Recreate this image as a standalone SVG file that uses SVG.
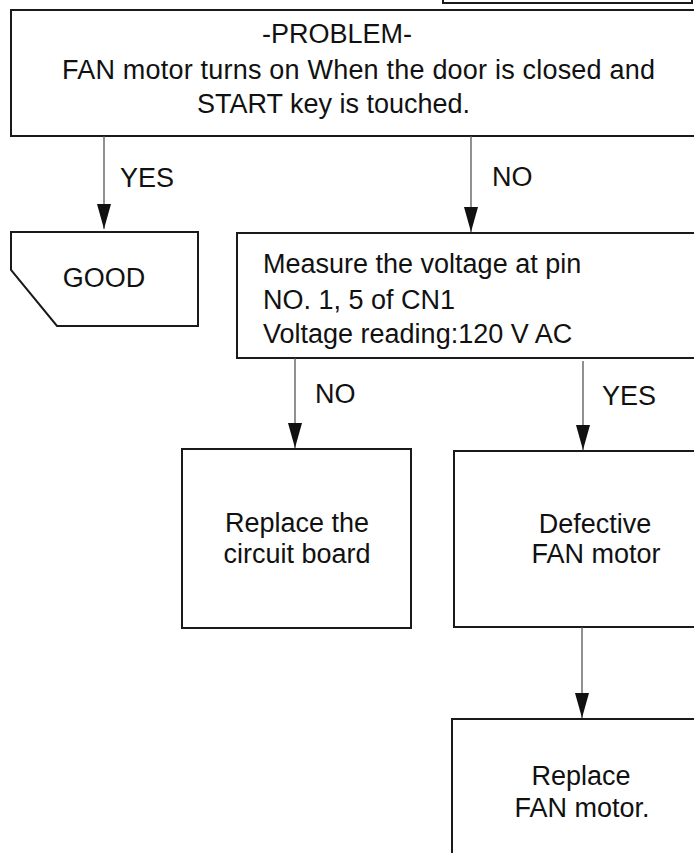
<svg xmlns="http://www.w3.org/2000/svg" width="694" height="863" viewBox="0 0 694 863">
<style>
.box{fill:#fff;stroke:#1a1a1a;stroke-width:2}
.t{font-family:"Liberation Sans",Arial,Helvetica,sans-serif;font-size:27px;fill:#111}
.c{text-anchor:middle}
.conn{stroke:#555;stroke-width:1.3;fill:none;marker-end:url(#ah)}
</style>
<defs>
<marker id="ah" markerUnits="userSpaceOnUse" markerWidth="26" markerHeight="16" viewBox="0 0 26 16" refX="25" refY="8" orient="auto">
<path d="M0,1 L25,8 L0,15 Z" fill="#111"/>
</marker>
</defs>
<rect width="694" height="863" fill="#fff"/>
<g id="top-partial"><rect class="box" x="443" y="-10" width="249" height="13"/></g>
<g id="problem">
<rect class="box" x="11" y="10" width="700" height="126"/>
<text class="t" x="262" y="43">-PROBLEM-</text>
<text class="t" x="62" y="79" textLength="593">FAN motor turns on When the door is closed and</text>
<text class="t" x="197" y="113">START key is touched.</text>
</g>
<g id="good">
<path class="box" d="M11,232 H198 V326 H57 L11,270 Z"/>
<text class="t c" x="104" y="287">GOOD</text>
</g>
<g id="measure">
<rect class="box" x="237" y="233" width="470" height="125"/>
<text class="t" x="263" y="273">Measure the voltage at pin</text>
<text class="t" x="263" y="309">NO. 1, 5 of CN1</text>
<text class="t" x="263" y="343">Voltage reading:120 V AC</text>
</g>
<g id="circuit">
<rect class="box" x="182" y="449" width="229" height="179"/>
<text class="t c" x="297" y="532">Replace the</text>
<text class="t c" x="297" y="563">circuit board</text>
</g>
<g id="defective">
<rect class="box" x="454" y="451" width="260" height="176"/>
<text class="t c" x="595" y="533">Defective</text>
<text class="t c" x="596" y="563">FAN motor</text>
</g>
<g id="replace-fan">
<path class="box" d="M700,719 H452 V853" fill="none"/>
<text class="t c" x="581" y="785">Replace</text>
<text class="t c" x="582" y="817">FAN motor.</text>
</g>
<g id="connectors">
<line class="conn" x1="104" y1="136" x2="104" y2="229"/>
<line class="conn" x1="471" y1="136" x2="471" y2="232"/>
<line class="conn" x1="295" y1="358" x2="295" y2="448"/>
<line class="conn" x1="583" y1="361" x2="583" y2="450"/>
<line class="conn" x1="582" y1="627" x2="582" y2="718"/>
<text class="t" x="120" y="187">YES</text>
<text class="t" x="492" y="186">NO</text>
<text class="t" x="315" y="403">NO</text>
<text class="t" x="602" y="405">YES</text>
</g>
</svg>
